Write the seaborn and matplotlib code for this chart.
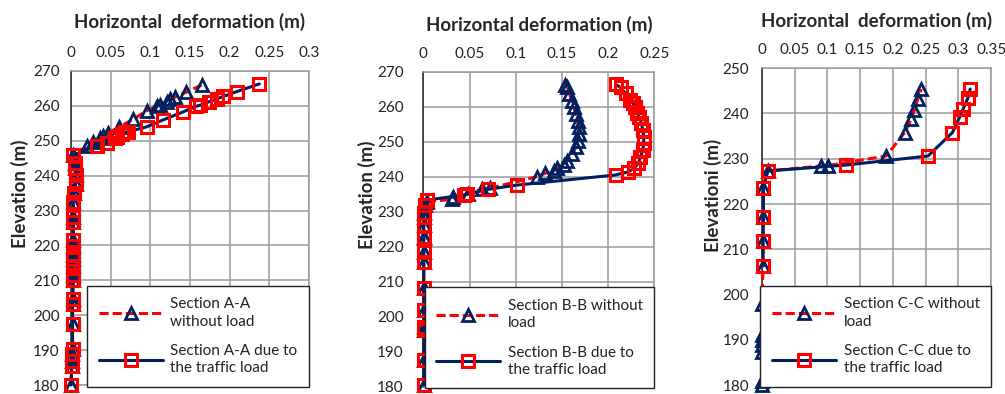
import numpy as np
import pandas as pd
import matplotlib
matplotlib.use("Agg")
import matplotlib.pyplot as plt
import seaborn as sns

# --- data (x = horizontal deformation in m, y = elevation in m) ---

# Section A-A
a_base_y = [180, 185.5, 187, 189, 190.4, 197.6, 203.3, 204.7, 210, 211.5, 214, 216, 217.4,
            219.8, 221.7, 226.8, 228.2, 232.5, 234.9, 237.7, 240.1, 242.2, 243.5, 245.9]
a_base_x = [0.000, 0.001, 0.001, 0.001, 0.002, 0.002, 0.002, 0.002, 0.003, 0.003, 0.003, 0.003, 0.003,
            0.003, 0.003, 0.003, 0.003, 0.003, 0.004, 0.006, 0.006, 0.005, 0.005, 0.003]
a_without_y = [248.5, 249.7, 250.9, 251.4, 252.2, 254, 256.2, 258.6, 259.9, 260.2, 261.2, 262, 262.5, 263.9, 266]
a_without_x = [0.0206, 0.028, 0.0366, 0.041, 0.047, 0.061, 0.0786, 0.0954, 0.108, 0.112, 0.121, 0.125,
               0.131, 0.145, 0.165]
a_traffic_y = [248.5, 249.5, 250.7, 251.2, 251.9, 252.4, 252.6, 254, 256, 258.3, 259.9, 260.2, 261.2, 262,
               262.7, 264.1, 266.3]
a_traffic_x = [0.0324, 0.0458, 0.0555, 0.0584, 0.064, 0.068, 0.0723, 0.0954, 0.1164, 0.1416, 0.1576, 0.163,
               0.174, 0.184, 0.192, 0.209, 0.2375]

# Section B-B
b_base_y = [180.5, 187.6, 196.2, 197.1, 201.9, 208.1, 215.7, 218.6, 222.4, 222.9, 226.2, 228.6, 229.5, 231.9]
b_base_x = [0.0005, 0.0005, 0.0005, 0.0005, 0.0005, 0.0005, 0.0005, 0.0005, 0.0005, 0.0005, 0.0005, 0.0005,
            0.001, 0.002]
b_without_y = [232.9, 233.5, 234.1, 235, 236.5, 236.7, 240, 241, 241.7, 242.4, 243.4, 244.5, 246.5, 248.4,
               250.3, 252.2, 254.1, 256, 257.9, 259.8, 261.7, 263.7, 265.5, 266.2]
b_without_x = [0.0036, 0.031, 0.0325, 0.048, 0.0635, 0.072, 0.123, 0.132, 0.141, 0.1447, 0.152, 0.156, 0.161,
               0.165, 0.167, 0.168, 0.168, 0.167, 0.165, 0.163, 0.161, 0.158, 0.156, 0.1535]
b_traffic_y = [233.3, 234.8, 235, 236.4, 237.6, 240.5, 241.4, 242.4, 243.8, 245.7, 247.6, 249.5, 251.4, 253.3,
               255.3, 257.1, 258.1, 259.8, 261, 261.9, 263.8, 265.5, 266.4]
b_traffic_x = [0.0036, 0.044, 0.047, 0.0705, 0.101, 0.208, 0.222, 0.228, 0.2325, 0.235, 0.2375, 0.2385, 0.2385,
               0.2375, 0.236, 0.2335, 0.2315, 0.2295, 0.227, 0.224, 0.2188, 0.2134, 0.208]

# Section C-C
c_without_y = [180, 180.9, 187.3, 188.8, 189.9, 191, 197.9, 206.3, 211.9, 217.2, 223.5, 227.3, 228.4, 228.5,
               230.6, 235.8, 238.7, 240.8, 243.2, 245.4]
c_without_x = [0.000, 0.000, 0.000, 0.000, 0.000, 0.000, 0.000, 0.002, 0.002, 0.0025, 0.0025, 0.009, 0.091,
               0.101, 0.190, 0.218, 0.228, 0.233, 0.238, 0.2435]
c_traffic_y = [206.3, 211.9, 217.2, 223.5, 227.3, 228.6, 230.6, 235.8, 239.2, 240.9, 243.4, 245.4]
c_traffic_x = [0.002, 0.002, 0.0025, 0.0025, 0.009, 0.128, 0.2536, 0.291, 0.302, 0.307, 0.3145, 0.318]

x_ticks_a = [0, 0.05, 0.1, 0.15, 0.2, 0.25, 0.3]
x_ticks_b = [0, 0.05, 0.1, 0.15, 0.2, 0.25]
x_ticks_c = [0, 0.05, 0.1, 0.15, 0.2, 0.25, 0.3, 0.35]
y_ticks_ab = list(range(180, 271, 10))
y_ticks_c = list(range(180, 251, 10))

NAVY = "#002060"
RED = "#FF0000"

sns.set_style("white")
plt.rcParams["font.family"] = ["Lato", "DejaVu Sans"]

fig = plt.figure(figsize=(10.05, 3.94), dpi=100)


def draw_panel(rect, wx, wy, tx, ty, xticks, yticks, title, ylabel, labels, ypad, ylab_x, title_y, ylab_y):
    ax = fig.add_axes(rect)
    df_w = pd.DataFrame({"x": wx, "y": wy})
    df_t = pd.DataFrame({"x": tx, "y": ty})
    sns.lineplot(data=df_w, x="x", y="y", sort=False, estimator=None, ax=ax,
                 color=RED, linestyle=(0, (3, 1.3)), linewidth=2.2,
                 marker="^", markersize=8, markerfacecolor="none",
                 markeredgecolor=NAVY, markeredgewidth=2, clip_on=False, zorder=3)
    sns.lineplot(data=df_t, x="x", y="y", sort=False, estimator=None, ax=ax,
                 color=NAVY, linestyle="-", linewidth=2.2,
                 marker="s", markersize=8, markerfacecolor="none",
                 markeredgecolor=RED, markeredgewidth=2.2, clip_on=False, zorder=4)

    ax.set_xlim(xticks[0], xticks[-1])
    ax.set_ylim(yticks[0], yticks[-1])
    ax.set_xticks(xticks)
    ax.set_yticks(yticks)
    ax.set_xticklabels([f"{v:g}" for v in xticks])
    ax.xaxis.tick_top()
    ax.xaxis.set_label_position("top")
    ax.tick_params(axis="x", length=0, pad=8, labelsize=11, colors="#222222")
    ax.tick_params(axis="y", length=0, pad=ypad, labelsize=11, colors="#222222")
    ax.grid(True, color="#9a9a9a", linewidth=1.1)
    for side in ["top", "right", "bottom"]:
        ax.spines[side].set_color("#9a9a9a")
        ax.spines[side].set_linewidth(1.1)
    ax.spines["left"].set_color("#222222")
    ax.spines["left"].set_linewidth(1.1)

    ax.set_xlabel(title, fontsize=13.5, fontweight="bold")
    ax.xaxis.set_label_coords(0.5, title_y)
    ax.xaxis.label.set_va("center")
    ax.set_ylabel(ylabel, fontsize=13.5, fontweight="bold")
    ax.yaxis.set_label_coords(ylab_x, ylab_y)
    ax.yaxis.label.set_va("center")

    handles = ax.get_lines()[:2]
    leg = ax.legend(handles, labels, loc="lower right", bbox_to_anchor=(1.0, -0.005),
                    fontsize=11, frameon=True, fancybox=False, framealpha=1,
                    edgecolor="#222222", handlelength=4.2, handletextpad=0.5,
                    borderpad=0.75, labelspacing=1.0, borderaxespad=0)
    leg.get_frame().set_linewidth(1.0)
    for t in leg.get_texts():
        t.set_color("#222222")
        t.set_linespacing(1.3)
    return ax


draw_panel([0.0706, 0.0228, 0.2368, 0.797], a_base_x + a_without_x, a_base_y + a_without_y,
           a_base_x + a_traffic_x, a_base_y + a_traffic_y, x_ticks_a, y_ticks_ab,
           "Horizontal  deformation (m)", "Elevation (m)",
           ["Section A-A\nwithout load", "Section A-A due to\nthe traffic load"],
           ypad=8, ylab_x=-0.215, title_y=1.156, ylab_y=0.61)

draw_panel([0.4212, 0.0185, 0.2299, 0.7995], b_base_x + b_without_x, b_base_y + b_without_y,
           b_base_x + b_traffic_x, b_base_y + b_traffic_y, x_ticks_b, y_ticks_ab,
           "Horizontal deformation (m)", "Elevation (m)",
           ["Section B-B without\nload", "Section B-B due to\nthe traffic load"],
           ypad=14, ylab_x=-0.245, title_y=1.15, ylab_y=0.61)

draw_panel([0.758, 0.0228, 0.2282, 0.804], c_without_x, c_without_y, c_traffic_x, c_traffic_y,
           x_ticks_c, y_ticks_c,
           "Horizontal  deformation (m)", "Elevationi (m)",
           ["Section C-C without\nload", "Section C-C due to\nthe traffic load"],
           ypad=9, ylab_x=-0.215, title_y=1.15, ylab_y=0.6)

plt.savefig("out.png", dpi=100)
